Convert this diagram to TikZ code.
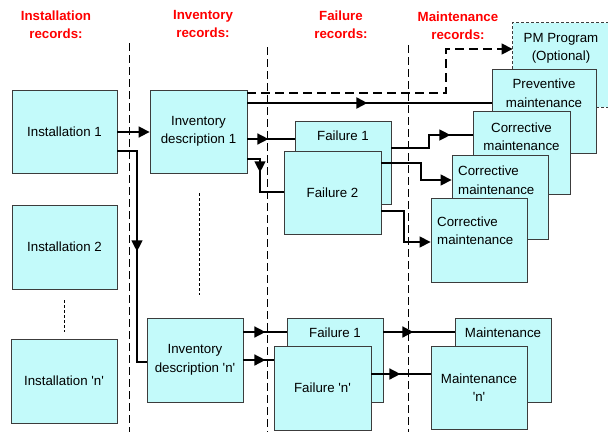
\documentclass[tikz,border=0pt]{standalone}
\usepackage{fontspec}
\setmainfont{Liberation Sans}[Ligatures=TeXOff]
\usetikzlibrary{arrows.meta,decorations.markings}

\definecolor{boxfill}{RGB}{195,250,250}
\definecolor{boxline}{RGB}{60,60,60}
\definecolor{headred}{RGB}{255,0,0}

\tikzset{
  x=1pt, y=-1pt,
  every node/.style={font=\fontsize{13.3}{18.5}\selectfont, inner sep=0pt},
  recbox/.style={draw=boxline, fill=boxfill, line width=0.8pt, minimum width=#1},
  recbox/.default=96pt,
  heading/.style={text=headred, font=\fontsize{13.3}{18}\selectfont\bfseries, align=center},
  txt/.style={align=center},
  txtl/.style={align=left, anchor=west},
  divider/.style={line width=0.8pt, dash pattern=on 8pt off 4pt},
  dotline/.style={line width=1pt, dash pattern=on 3pt off 2pt},
  link/.style={line width=1.6pt},
  tipend/.style={-{Triangle[length=11pt,width=11pt]}},
  midarrow/.style={postaction={decorate}, decoration={markings,
      mark=at position #1 with {\arrow{Triangle[length=11pt,width=11pt]}}}},
}

\begin{document}
\begin{tikzpicture}
  \useasboundingbox (0,0) rectangle (608,432);
  \fill[white] (0,0) rectangle (608,432);
  \clip (0,0) rectangle (608,432);

  % column headings
  \node[heading] (hinst) at (56,25)  {Installation\\records:};
  \node[heading] (hinv)  at (203,24) {Inventory\\records:};
  \node[heading] (hfail) at (341,24.5) {Failure\\records:};
  \node[heading] (hmnt)  at (458,25.5) {Maintenance\\records:};

  % column dividers
  \draw[divider] (129,43) -- (129,432);
  \draw[divider] (267,47) -- (267,432);
  \draw[divider] (408,45) -- (408,432);

  % "more records" marks
  \draw[dotline] (64,300) -- (64,332);
  \draw[dotline] (199,193) -- (199,295);

  % maintenance side (stacked, back to front)
  \node[recbox, minimum height=84pt, draw=none] (pm) at (561,65) {};
  \draw[boxline, line width=1.2pt, dash pattern=on 3pt off 2pt, fill=boxfill]
    (pm.south east) -- (pm.south west) -- (pm.north west) -- (pm.north east);
  \node[txt] (pmt) at (561,48.5) {PM Program\\(Optional)};

  \node[recbox=104pt, minimum height=84pt] (prev) at (544,111) {};
  \node[txt] (prevt) at (544,93) {Preventive\\maintenance};

  \node[recbox=97pt, minimum height=83pt] (corr1) at (521.5,152.5) {};
  \node[txt] (corr1t) at (521.5,136.5) {Corrective\\maintenance};

  \node[recbox, minimum height=84pt] (corr2) at (500,197) {};
  \node[txtl] (corr2t) at (458,180) {Corrective\\maintenance};

  \node[recbox, minimum height=84pt] (corr3) at (479,240) {};
  \node[txtl] (corr3t) at (437,230.5) {Corrective\\maintenance};

  \node[recbox, minimum height=84pt] (maint) at (503,360) {};
  \node[txt] (maintt) at (503,333) {Maintenance};

  \node[recbox, minimum height=83pt, txt] (maintn) at (479,387.5) {Maintenance\\'n'};

  % failure side
  \node[recbox, minimum height=83pt] (fail1) at (343,162.5) {};
  \node[txt] (fail1t) at (343,136) {Failure 1};
  \node[recbox=97pt, minimum height=83pt] (fail2) at (332.5,192.5) {Failure 2};

  \node[recbox, minimum height=84pt] (failA) at (335,360) {};
  \node[txt] (failAt) at (335,333) {Failure 1};
  \node[recbox=97pt, minimum height=84pt] (failn) at (322.5,388) {Failure 'n'};

  % installations and inventories
  \node[recbox=105pt, minimum height=83pt] (inst1) at (64.5,131.5) {Installation 1};
  \node[recbox=105pt, minimum height=84pt] (inst2) at (64.5,247) {Installation 2};
  \node[recbox=106pt, minimum height=84pt] (instn) at (64,381) {Installation 'n'};

  \node[recbox=97pt, minimum height=83pt, txt] (inv1) at (198.5,131.5) {Inventory\\description 1};
  \node[recbox, minimum height=84pt, txt] (invn) at (195,360) {Inventory\\description 'n'};

  % connectors
  \draw[link, tipend] (inst1.east |- 0,132) -- (inv1.west |- 0,132);
  \draw[link, line width=1.3pt, midarrow=120pt]
    (inst1.east |- 0,151) -- (137,151) -- (137,362) -- (invn.west |- 0,362);

  \draw[link, line width=1.3pt, tipend, dash pattern=on 9pt off 5pt]
    (inv1.east |- 0,93) -- (446,93) -- (446,49) -- (pm.west |- 0,49);
  \draw[link, line width=2pt, midarrow=120pt] (inv1.east |- 0,103) -- (prev.west |- 0,103);
  \draw[link, midarrow=21pt] (inv1.east |- 0,139) -- (fail1.west |- 0,139);
  \draw[link, line width=1.3pt, midarrow=26pt]
    (inv1.east |- 0,159) -- (260,159) -- (260,192) -- (fail2.west |- 0,192);

  \draw[link, line width=1.3pt, midarrow=72pt]
    (fail1.east |- 0,148) -- (429,148) -- (429,135) -- (corr1.west |- 0,135);
  \draw[link, line width=1.3pt, tipend]
    (fail2.east |- 0,163) -- (421,163) -- (421,180) -- (corr2.west |- 0,180);
  \draw[link, line width=1.3pt, tipend]
    (fail2.east |- 0,211) -- (404,211) -- (404,242) -- (corr3.west |- 0,242);

  \draw[link, midarrow=22pt] (invn.east |- 0,332) -- (failA.west |- 0,332);
  \draw[link, midarrow=22pt] (invn.east |- 0,360) -- (failn.west |- 0,360);
  \draw[link, midarrow=30pt] (failA.east |- 0,332) -- (maint.west |- 0,332);
  \draw[link, midarrow=29pt] (failn.east |- 0,374) -- (maintn.west |- 0,374);
\end{tikzpicture}
\end{document}
